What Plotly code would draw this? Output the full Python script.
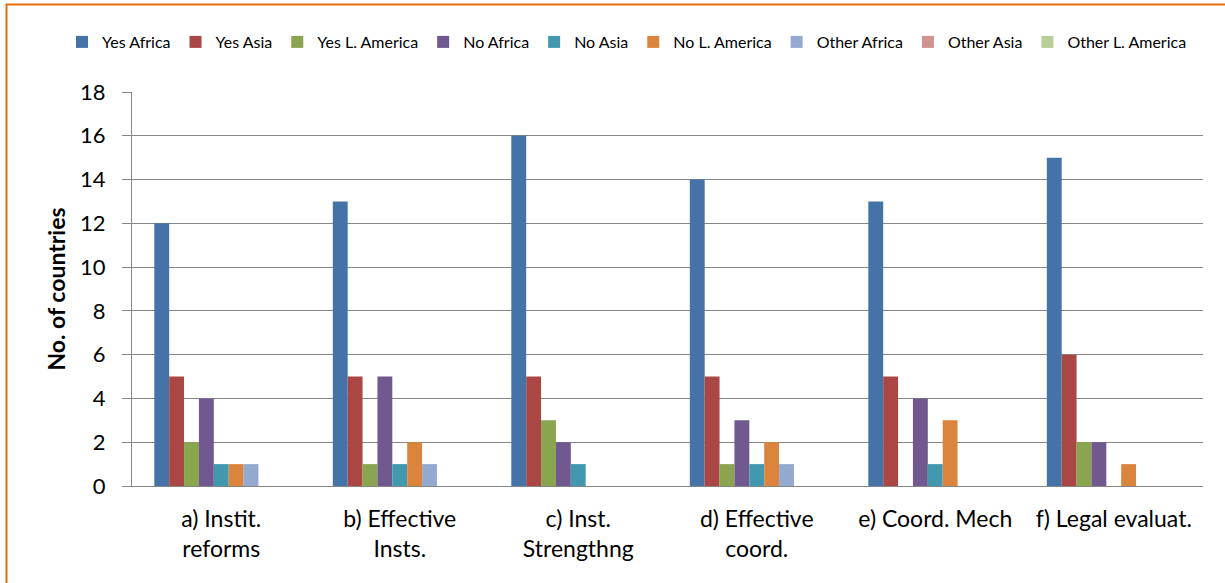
import plotly.graph_objects as go

categories = ["a) Instit.<br>reforms", "b) Effective<br>Insts.", "c) Inst.<br>Strengthng",
              "d) Effective<br>coord.", "e) Coord. Mech", "f) Legal evaluat."]

series_names = ["Yes Africa", "Yes Asia", "Yes L. America", "No Africa", "No Asia",
                "No L. America", "Other Africa", "Other Asia", "Other L. America"]

yes_africa = [12, 13, 16, 14, 13, 15]
yes_asia = [5, 5, 5, 5, 5, 6]
yes_lam = [2, 1, 3, 1, 0, 2]
no_africa = [4, 5, 2, 3, 4, 2]
no_asia = [1, 1, 1, 1, 1, 0]
no_lam = [1, 2, 0, 2, 3, 1]
other_africa = [1, 1, 0, 1, 0, 0]
other_asia = [0, 0, 0, 0, 0, 0]
other_lam = [0, 0, 0, 0, 0, 0]

values = [yes_africa, yes_asia, yes_lam, no_africa, no_asia, no_lam,
          other_africa, other_asia, other_lam]
colors = ["#4572A7", "#AA4643", "#89A54E", "#71588F", "#4198AF", "#DB843D",
          "#93A9CF", "#D19392", "#B9CD96"]

fig = go.Figure()
for name, vals, col in zip(series_names, values, colors):
    fig.add_trace(go.Bar(x=categories, y=vals, name=name,
                         marker=dict(color=col, line=dict(width=0))))

W, H = 1225, 583
L, R, T, B = 132, 22, 92, 97
pw, ph = W - L - R, H - T - B

def px(x):
    return (x - L) / pw

def py(y):
    return (H - B - y) / ph

fig.add_shape(type="rect", xref="paper", yref="paper",
              x0=px(6.5), x1=px(1240), y0=py(600), y1=py(4.5),
              line=dict(color="#E46C0A", width=2), fillcolor="rgba(0,0,0,0)",
              layer="below")

fig.update_layout(
    width=W, height=H,
    margin=dict(l=L, r=R, t=T, b=B, autoexpand=False),
    paper_bgcolor="white", plot_bgcolor="white",
    barmode="group", bargap=0.25, bargroupgap=0,
    font=dict(family="Lato, Open Sans, sans-serif", color="#000000"),
    showlegend=True,
    legend=dict(orientation="h", xref="paper", yref="paper",
                x=px(62), xanchor="left", y=py(42), yanchor="middle",
                font=dict(size=16), itemwidth=30, tracegroupgap=0,
                traceorder="normal"),
    xaxis=dict(showgrid=False, showline=True, linecolor="#868686", linewidth=1,
               tickfont=dict(size=23), ticks="", tickangle=0,
               ticklabelstandoff=12, automargin=False),
    yaxis=dict(range=[0, 18], dtick=2, showgrid=True, gridcolor="#868686",
               gridwidth=1, showline=True, linecolor="#868686", linewidth=1,
               ticks="outside", ticklen=9, tickcolor="#868686",
               ticklabelstandoff=12,
               tickfont=dict(size=22), zeroline=False, automargin=False,
               title=dict(text="<b>No. of countries</b>", font=dict(size=23),
                          standoff=8)),
)

fig.write_html("out.html")
